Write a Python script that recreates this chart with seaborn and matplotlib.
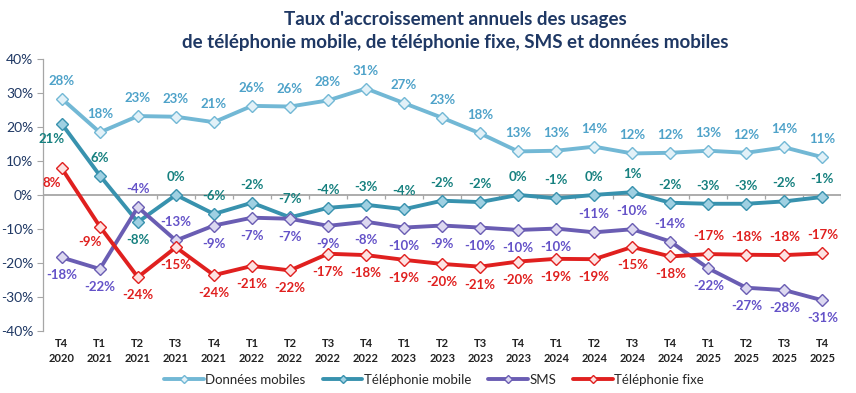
import numpy as np
import pandas as pd
import matplotlib
matplotlib.use("Agg")
import matplotlib.pyplot as plt
import seaborn as sns

quarters = ["T4\n2020",
            "T1\n2021", "T2\n2021", "T3\n2021", "T4\n2021",
            "T1\n2022", "T2\n2022", "T3\n2022", "T4\n2022",
            "T1\n2023", "T2\n2023", "T3\n2023", "T4\n2023",
            "T1\n2024", "T2\n2024", "T3\n2024", "T4\n2024",
            "T1\n2025", "T2\n2025", "T3\n2025", "T4\n2025"]

donnees_mobiles = [28.3, 18.4, 23.2, 23.0, 21.4, 26.2, 26.0, 27.8, 31.3, 27.0, 22.7,
                   18.1, 12.8, 13.0, 14.2, 12.2, 12.4, 13.0, 12.4, 14.0, 11.1]
telephonie_mobile = [20.9, 5.7, -8.0, 0.0, -5.6, -2.3, -6.6, -3.8, -2.9, -4.2, -1.7,
                     -2.1, 0.0, -1.0, 0.0, 0.8, -2.3, -2.6, -2.6, -1.9, -0.6]
sms = [-18.4, -21.8, -3.6, -13.4, -9.0, -6.7, -7.0, -9.1, -7.9, -9.6, -9.0,
       -9.6, -10.3, -9.9, -11.0, -10.1, -13.7, -21.6, -27.3, -28.0, -31.0]
telephonie_fixe = [7.8, -9.3, -24.2, -15.4, -23.6, -20.9, -22.2, -17.3, -17.7, -19.1, -20.3,
                   -21.1, -19.6, -18.8, -18.9, -15.3, -18.1, -17.4, -17.6, -17.7, -17.2]

# label placement: a = above, b = below, l = left/below
place_donnees = ["a"] * 21
place_mobile = ["l", "a", "b"] + ["a"] * 18
place_sms = ["b", "b", "a", "a"] + ["b"] * 10 + ["a", "a", "a"] + ["b"] * 4
place_fixe = ["l", "l"] + ["b"] * 15 + ["a"] * 4

series = [
    # name, values, line, marker face, label colour, placement
    ("Données mobiles", donnees_mobiles, "#72b8d5", "#e2f1f8", "#4ea2c9", place_donnees),
    ("Téléphonie mobile", telephonie_mobile, "#3892ae", "#9fd0e2", "#16807f", place_mobile),
    ("SMS", sms, "#6a5db3", "#dcd8f0", "#6452c8", place_sms),
    ("Téléphonie fixe", telephonie_fixe, "#e0201f", "#fde2e2", "#e0201f", place_fixe),
]

sns.set_style("white")
plt.rcParams["font.family"] = ["Lato", "DejaVu Sans"]

fig = plt.figure(figsize=(8.56, 3.93), dpi=100)
ax = fig.add_axes([0.050, 0.158, 0.933, 0.692])

x = np.arange(len(quarters))
offsets = {"a": (0, 18), "b": (0, -18)}
for name, vals, col, face, lcol, place in series:
    df = pd.DataFrame({"x": x, "y": vals})
    sns.lineplot(data=df, x="x", y="y", ax=ax, color=col, linewidth=2.8,
                 marker="D", markersize=6, markerfacecolor=face,
                 markeredgecolor=col, markeredgewidth=1.0, label=name)
    for i, (v, p) in enumerate(zip(vals, place)):
        if p == "l":
            dx, dy = (-10, -15)
        else:
            dx, dy = offsets[p]
        ax.annotate(f"{round(v):d}%", (i, v), xytext=(dx, dy),
                    textcoords="offset pixels", ha="center", va="center",
                    fontsize=9.5, fontweight="bold", color=lcol)

ax.set_xlim(-0.5, len(quarters) - 0.5)
ax.set_ylim(-40, 40)
ax.set_yticks(np.arange(-40, 41, 10))
ax.set_yticklabels([f"{t}%" for t in range(-40, 41, 10)], color="#1f3864", fontsize=10)
ax.set_xticks(x)
ax.set_xticklabels(quarters, fontsize=8, fontweight="bold", color="#222222", linespacing=1.5)
ax.tick_params(axis="x", length=0, pad=5)
ax.tick_params(axis="y", length=4, width=0.8, color="#a6a6a6", left=True, pad=3)
ax.set_xlabel("")
ax.set_ylabel("")

for s in ["top", "right", "bottom"]:
    ax.spines[s].set_visible(False)
ax.spines["left"].set_color("#a6a6a6")
ax.spines["left"].set_linewidth(0.9)

ax.axhline(0, color="#a6a6a6", linewidth=1.3, zorder=0)
ax.vlines(np.arange(len(quarters) + 1) - 0.5, -1.2, 0, color="#a6a6a6", linewidth=0.9, zorder=0)

leg = ax.legend(loc="center", bbox_to_anchor=(0.49, -0.18), ncol=4, frameon=False,
                fontsize=9.5, handlelength=3.0, columnspacing=1.3, handletextpad=0.1,
                markerscale=0.7)
for t in leg.get_texts():
    t.set_color("#262626")

fig.text(0.532, 0.950, "Taux d'accroissement annuels des usages", ha="center", va="center",
         fontsize=13.5, fontweight="bold", color="#1f3864")
fig.text(0.532, 0.891, "de téléphonie mobile, de téléphonie fixe, SMS et données mobiles",
         ha="center", va="center", fontsize=13.5, fontweight="bold", color="#1f3864")

fig.savefig("out.png", dpi=100)
